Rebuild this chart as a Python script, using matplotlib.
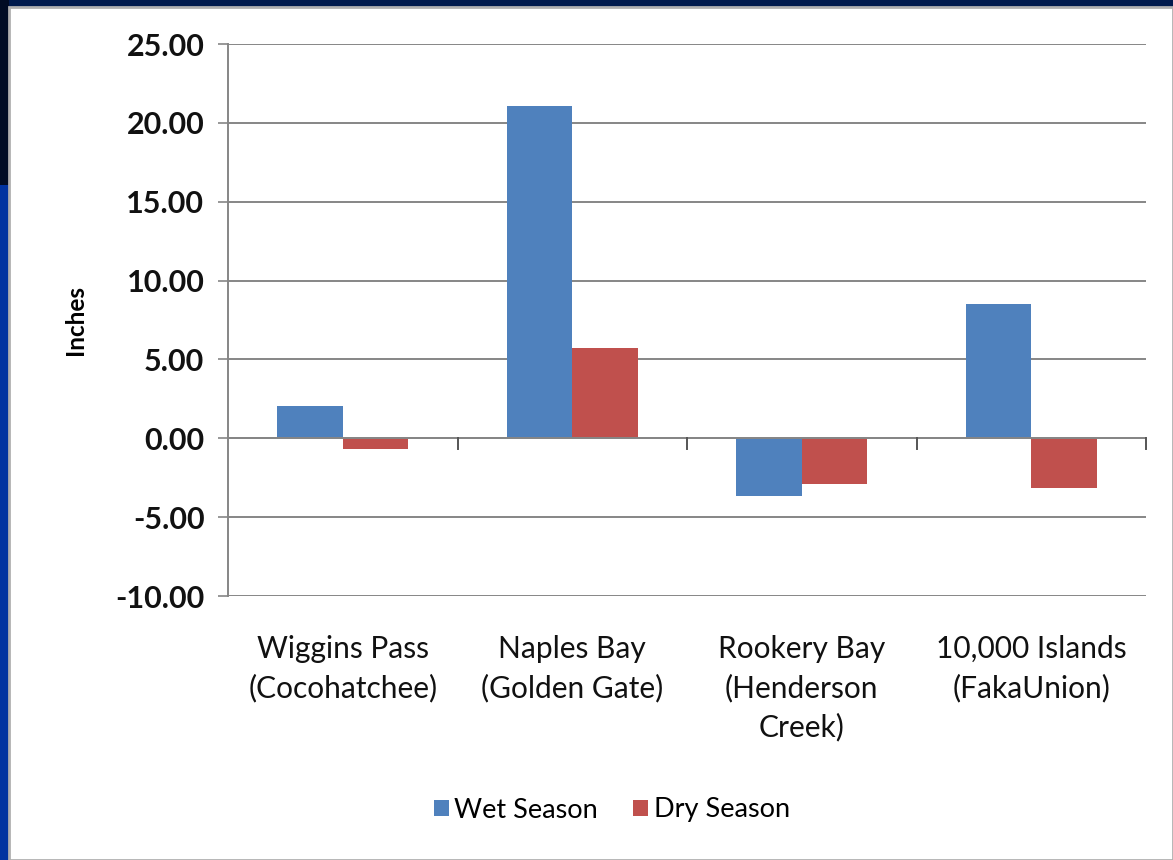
import matplotlib.pyplot as plt
import matplotlib.patches as patches
import numpy as np

categories = ["Wiggins Pass\n(Cocohatchee)", "Naples Bay\n(Golden Gate)",
              "Rookery Bay\n(Henderson\nCreek)", "10,000 Islands\n(FakaUnion)"]
wet_season = [2.03, 21.1, -3.65, 8.5]
dry_season = [-0.7, 5.7, -2.9, -3.15]
y_ticks = [-10, -5, 0, 5, 10, 15, 20, 25]

FONT = "Lato"
BLUE = "#4F81BD"
RED = "#C0504D"
GRID = "#868686"

fig = plt.figure(figsize=(11.73, 8.6), dpi=100)
fig.patch.set_facecolor("#001a4d")
W, H = 1173.0, 860.0

# slide frame: navy top/left, blue left border below, white chart area
bg = fig.add_axes([0, 0, 1, 1], zorder=-10)
bg.set_xlim(0, W)
bg.set_ylim(H, 0)
bg.axis("off")
bg.add_patch(patches.Rectangle((0, 185), 9, H - 185, facecolor="#0033a0", edgecolor="none"))
bg.add_patch(patches.Rectangle((0, 0), 9, 185, facecolor="#000c24", edgecolor="none"))
bg.add_patch(patches.Rectangle((9, 7), W - 9, H - 7, facecolor="white",
                               edgecolor="#b0b0b0", linewidth=2))

ax = fig.add_axes([228 / W, 1 - 596 / H, (1146 - 228) / W, (596 - 44) / H])
ax.set_facecolor("none")

x = np.arange(len(categories))
bw = 1 / 3.5
ax.bar(x - bw / 2, wet_season, bw, color=BLUE, label="Wet Season", zorder=3)
ax.bar(x + bw / 2, dry_season, bw, color=RED, label="Dry Season", zorder=3)

ax.set_xlim(-0.5, len(categories) - 0.5)
ax.set_ylim(-10, 25)
ax.set_yticks(y_ticks)
ax.set_yticklabels([f"{v:.2f}" for v in y_ticks], fontfamily=FONT, fontweight="bold",
                   fontsize=22, color="#111111")
ax.yaxis.grid(True, color=GRID, linewidth=1.4, zorder=0)
ax.tick_params(axis="y", length=7, width=1.2, color=GRID, pad=10)

for s in ["top", "right", "bottom"]:
    ax.spines[s].set_visible(False)
ax.spines["left"].set_color(GRID)
ax.spines["left"].set_linewidth(1.4)

# category axis at zero with boundary ticks
ax.axhline(0, color=GRID, linewidth=1.4, zorder=4)
for b in np.arange(0.5, len(categories), 1.0):
    ax.plot([b, b], [0, -0.7], color="#555555", linewidth=1.4, zorder=4, clip_on=False)

ax.set_xticks(x)
ax.set_xticklabels(categories, fontfamily=FONT, fontsize=21.5, color="#111111",
                   linespacing=1.45, va="top")
ax.tick_params(axis="x", length=0, pad=28)

ax.set_ylabel("Inches", fontfamily=FONT, fontweight="bold", fontsize=17.5, labelpad=20)

fig.legend(loc="center", bbox_to_anchor=(612 / W, 1 - 810 / H), ncol=2, frameon=False,
           prop={"family": FONT, "size": 19.5}, handlelength=0.55, handleheight=0.55,
           handletextpad=0.2, columnspacing=1.3)

fig.savefig("out.png", dpi=100, facecolor=fig.get_facecolor())
